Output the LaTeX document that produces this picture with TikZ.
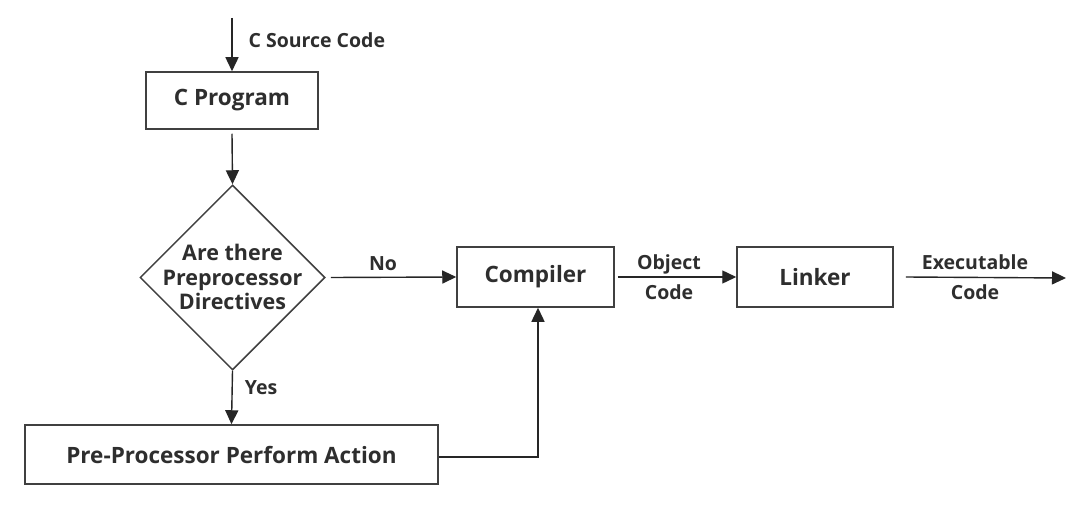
\documentclass[tikz,border=0pt]{standalone}
\usepackage{fontspec}
\setmainfont{Open Sans}
\usetikzlibrary{arrows.meta,shapes.geometric}
\begin{document}
\begin{tikzpicture}[x=1pt,y=-1pt,
  box/.style={draw=black!75,line width=1.5pt,inner sep=0pt},
  conn/.style={draw=black!85,line width=1.4pt,-{Triangle[length=14pt,width=13pt]}},
  txt/.style={text=black!82,align=center,font=\bfseries\fontsize{22.5}{25}\selectfont},
  lbl/.style={text=black!82,align=center,font=\bfseries\fontsize{19.5}{30}\selectfont}]
\useasboundingbox[fill=white] (0,0) rectangle (1076,505);
% nodes
\node[box,minimum width=172pt,minimum height=57pt,txt] (prog) at (232,100.5) {C Program};
\node[box,diamond,minimum width=185pt,minimum height=185pt,aspect=1] (dec) at (232.5,277.5) {};
\node[text=black!82,align=center,font=\bfseries\fontsize{21.5}{24.5}\selectfont] (dectext) at (232.5,277) {Are there\\Preprocessor\\Directives};
\node[box,minimum width=157pt,minimum height=60pt,txt] (comp) at (535.5,277) {Compiler};
\node[box,minimum width=156pt,minimum height=60pt,txt] (link) at (815,277) {Linker};
\node[box,minimum width=413pt,minimum height=59pt,txt] (pre) at (231.5,454.5) {Pre-Processor Perform Action};
\coordinate (src) at (232,18);
\coordinate (exe) at (1066,278);
\coordinate (bend) at (538,457);
% connectors
\draw[conn] (src) -- (prog.north);
\node[lbl,anchor=west] (srclbl) at (245,40) {C Source Code};
\draw[conn] (prog.south) ++(0,4) -- (dec.north);
\draw[conn] (dec.east) ++(5,0) -- (comp.west);
\node[lbl] (no) at (383,264) {No};
\draw[conn] (comp.east) ++(3,0) -- (link.west);
\node[lbl] (obj) at (669,277) {Object\\Code};
\draw[conn] (link.east) ++(12,0) -- (exe);
\node[lbl] (exelbl) at (975,277) {Executable\\Code};
\draw[conn] (dec.south) -- (pre.north);
\node[lbl] (yes) at (261,388) {Yes};
\draw[conn] (pre.east |- bend) -- (bend) -- (bend |- comp.south);
\end{tikzpicture}
\end{document}
